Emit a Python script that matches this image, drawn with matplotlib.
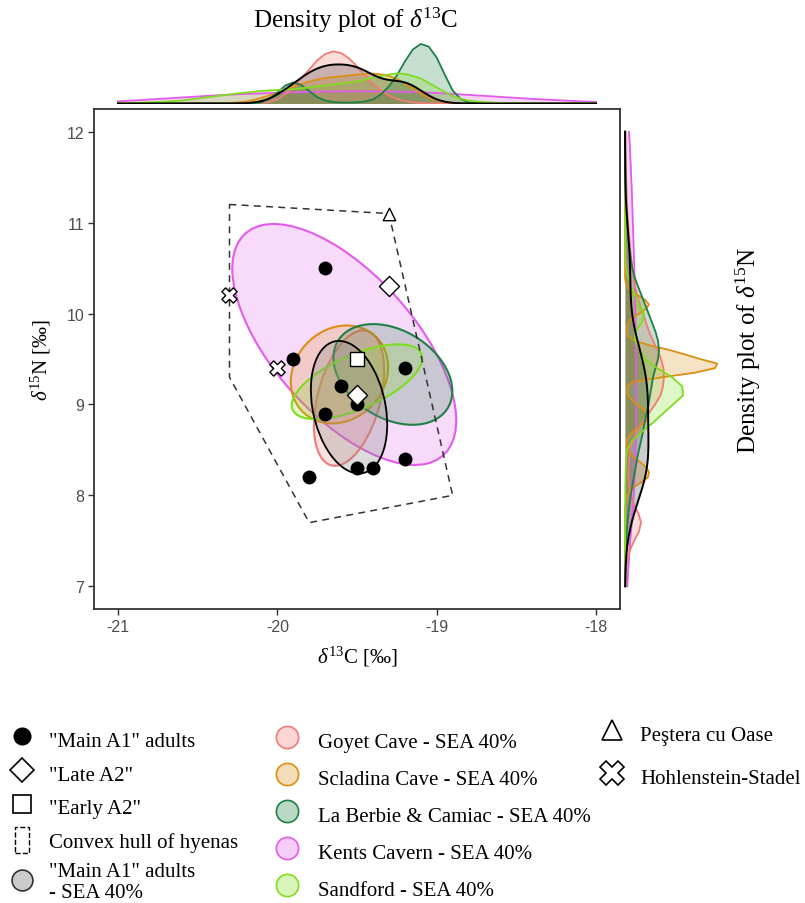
import numpy as np
import matplotlib
matplotlib.use("Agg")
import matplotlib.pyplot as plt
from matplotlib.patches import Ellipse, Patch, Polygon, Rectangle
from matplotlib.lines import Line2D
from matplotlib.colors import to_rgba
from matplotlib.legend_handler import HandlerPatch

plt.rcParams['font.family'] = ['Liberation Serif', 'DejaVu Serif']
plt.rcParams['mathtext.fontset'] = 'custom'
plt.rcParams['mathtext.rm'] = 'Liberation Serif'
plt.rcParams['mathtext.it'] = 'Liberation Serif:italic'
plt.rcParams['mathtext.bf'] = 'Liberation Serif:bold'

# ---------------- data ----------------
main_a1_c13 = [-19.7, -19.9, -19.6, -19.7, -19.5, -19.2, -19.2, -19.5, -19.4, -19.8]
main_a1_n15 = [10.5, 9.5, 9.2, 8.9, 9.0, 9.4, 8.4, 8.3, 8.3, 8.2]
late_a2_c13 = [-19.3, -19.5]
late_a2_n15 = [10.3, 9.1]
early_a2_c13 = [-19.5]
early_a2_n15 = [9.5]
oase_c13 = [-19.3]
oase_n15 = [11.1]
hohlenstein_c13 = [-20.3, -20.0]
hohlenstein_n15 = [10.2, 9.4]
hull_c13 = [-20.3, -19.3, -18.9, -19.8, -20.3]
hull_n15 = [11.2, 11.1, 8.0, 7.7, 9.3]

sites = ['Goyet Cave', 'Scladina Cave', 'La Berbie & Camiac', 'Kents Cavern', 'Sandford']
site_colors = ['#F07C76', '#DD8F14', '#1E8048', '#E35BEA', '#80DC1E']
site_mean_c13 = [-19.55, -19.61, -19.275, -19.58, -19.50]
site_mean_n15 = [9.07, 9.33, 9.33, 9.66, 9.25]
site_sd_c13 = [0.218, 0.302, 0.369, 0.695, 0.405]
site_sd_n15 = [0.737, 0.533, 0.548, 1.311, 0.407]
site_rho = [0.40, 0.15, -0.33, -0.63, 0.63]
sea_level = 0.40

# density of d13C, read on a 0.05 grid from -21 to -18
c13_grid = np.round(np.linspace(-21.0, -18.0, 61), 2)
dens_c13_goyet = [0.0] * 18 + [
    0.02, 0.06, 0.15, 0.34, 0.60, 0.94, 1.27, 1.61, 1.85, 1.95, 1.89,
    1.69, 1.39, 1.05, 0.75, 0.49, 0.30, 0.17, 0.09, 0.045, 0.02] + [0.0] * 22
dens_c13_scladina = [0.0] * 13 + [
    0.01, 0.02, 0.045, 0.075, 0.13, 0.21, 0.30, 0.39, 0.51, 0.62, 0.73,
    0.82, 0.90, 0.955, 0.99, 1.02, 1.05, 1.08, 1.10, 1.12, 1.09, 1.03,
    0.92, 0.75, 0.56, 0.37, 0.22, 0.12, 0.06, 0.026, 0.011] + [0.0] * 17
dens_c13_berbie = [0.0] * 17 + [
    0.011, 0.037, 0.17, 0.41, 0.67, 0.79, 0.69, 0.47, 0.24, 0.11, 0.056,
    0.037, 0.037, 0.045, 0.075, 0.15, 0.34, 0.64, 1.05, 1.57, 2.02, 2.23,
    2.13, 1.72, 1.09, 0.49, 0.17, 0.045, 0.011] + [0.0] * 15
dens_c13_kents = [
    0.082, 0.097, 0.112, 0.131, 0.150, 0.169, 0.187, 0.206, 0.225, 0.243,
    0.262, 0.281, 0.300, 0.315, 0.330, 0.345, 0.356, 0.367, 0.378, 0.390,
    0.400, 0.412, 0.420, 0.427, 0.434, 0.442, 0.446, 0.449, 0.453, 0.457,
    0.457, 0.457, 0.457, 0.453, 0.449, 0.446, 0.438, 0.431, 0.420, 0.408,
    0.393, 0.378, 0.360, 0.341, 0.322, 0.303, 0.285, 0.266, 0.247, 0.228,
    0.210, 0.191, 0.172, 0.157, 0.142, 0.127, 0.112, 0.097, 0.082, 0.067,
    0.056]
dens_c13_sandford = [
    0.011, 0.015, 0.022, 0.034, 0.045, 0.060, 0.075, 0.094, 0.112, 0.150,
    0.187, 0.225, 0.262, 0.300, 0.337, 0.375, 0.410, 0.440, 0.470, 0.487,
    0.506, 0.524, 0.543, 0.570, 0.600, 0.637, 0.674, 0.710, 0.750, 0.787,
    0.824, 0.900, 0.974, 1.030, 1.086, 1.124, 1.105, 1.030, 0.936, 0.768,
    0.600, 0.430, 0.280, 0.180, 0.112, 0.075, 0.052, 0.034, 0.019, 0.011,
    0.007] + [0.0] * 10

# density of d15N, read on a 0.1 grid from 7 to 12 (Scladina on a 0.05 grid)
n15_grid = np.round(np.linspace(7.0, 12.0, 51), 2)
n15_grid_fine = np.round(np.linspace(7.0, 12.0, 101), 2)
dens_n15_goyet = [
    0.006, 0.0125, 0.025, 0.052, 0.104, 0.1875, 0.29, 0.333, 0.28, 0.1875,
    0.125, 0.083, 0.073, 0.073, 0.083, 0.104, 0.167, 0.24, 0.354, 0.49,
    0.625, 0.74, 0.79, 0.81, 0.80, 0.75, 0.677, 0.583, 0.50, 0.4375,
    0.375, 0.31, 0.25, 0.208, 0.177, 0.15, 0.13, 0.11, 0.094, 0.077,
    0.062, 0.052, 0.042, 0.035, 0.029, 0.023, 0.019, 0.015, 0.010, 0.008,
    0.006]
dens_n15_scladina = [0.0] * 18 + [
    0.006, 0.021, 0.042, 0.104, 0.208, 0.354, 0.479, 0.50, 0.458, 0.354,
    0.229, 0.125, 0.052, 0.031, 0.042, 0.083, 0.167, 0.292, 0.417, 0.479,
    0.458, 0.375, 0.25, 0.146, 0.0625, 0.042, 0.052, 0.167, 0.79, 1.46,
    1.875, 1.92, 1.5625, 1.25, 0.917, 0.52, 0.208, 0.0625, 0.042, 0.042,
    0.073, 0.146, 0.292, 0.4375, 0.50, 0.417, 0.27, 0.125, 0.042, 0.01] + [0.0] * 33
dens_n15_berbie = [
    0.003, 0.005, 0.008, 0.0125, 0.019, 0.027, 0.0375, 0.052, 0.071, 0.094,
    0.12, 0.15, 0.183, 0.219, 0.25, 0.29, 0.333, 0.375, 0.406, 0.448,
    0.49, 0.52, 0.552, 0.583, 0.635, 0.6875, 0.708, 0.6875, 0.635, 0.5625,
    0.49, 0.417, 0.344, 0.27, 0.20, 0.15, 0.12, 0.096, 0.075, 0.058,
    0.044, 0.033, 0.025, 0.019, 0.015, 0.010, 0.008, 0.006, 0.004, 0.003,
    0.002]
dens_n15_kents = [
    0.048, 0.058, 0.069, 0.081, 0.094, 0.108, 0.125, 0.140, 0.154, 0.169,
    0.181, 0.192, 0.200, 0.208, 0.215, 0.219, 0.223, 0.227, 0.229, 0.229,
    0.229, 0.229, 0.229, 0.229, 0.229, 0.227, 0.225, 0.223, 0.221, 0.219,
    0.215, 0.210, 0.206, 0.202, 0.198, 0.194, 0.1875, 0.181, 0.175, 0.169,
    0.1625, 0.156, 0.150, 0.144, 0.1375, 0.129, 0.121, 0.1125, 0.104, 0.094,
    0.083]
dens_n15_sandford = [
    0.002, 0.002, 0.002, 0.002, 0.002, 0.002, 0.002, 0.003, 0.003, 0.004,
    0.004, 0.006, 0.010, 0.015, 0.021, 0.042, 0.146, 0.354, 0.583, 0.79,
    1.0, 1.21, 1.19, 0.98, 0.667, 0.417, 0.3125, 0.208, 0.208, 0.354,
    0.396, 0.29, 0.208, 0.125, 0.0625, 0.021, 0.0125, 0.008, 0.006, 0.004,
    0.003, 0.002, 0.002, 0.002, 0.002, 0.002, 0.002, 0.002, 0.002, 0.002,
    0.002]

dens_c13_sites = [(c13_grid, dens_c13_goyet), (c13_grid, dens_c13_scladina),
                  (c13_grid, dens_c13_berbie), (c13_grid, dens_c13_kents),
                  (c13_grid, dens_c13_sandford)]
dens_n15_sites = [(n15_grid, dens_n15_goyet), (n15_grid_fine, dens_n15_scladina),
                  (n15_grid, dens_n15_berbie), (n15_grid, dens_n15_kents),
                  (n15_grid, dens_n15_sandford)]

x_ticks = [-21, -20, -19, -18]
x_ticklabels = ['-21', '-20', '-19', '-18']
y_ticks = [7, 8, 9, 10, 11, 12]
y_ticklabels = ['7', '8', '9', '10', '11', '12']

# ---------------- helpers ----------------
def sea_ellipse(mx, my, cov, level, **kw):
    k = np.sqrt(-2.0 * np.log(1.0 - level))
    vals, vecs = np.linalg.eigh(np.asarray(cov))
    order = vals.argsort()[::-1]
    vals, vecs = vals[order], vecs[:, order]
    angle = np.degrees(np.arctan2(vecs[1, 0], vecs[0, 0]))
    return Ellipse((mx, my), 2 * k * np.sqrt(vals[0]), 2 * k * np.sqrt(vals[1]),
                   angle=angle, **kw)


def kde(values, grid):
    v = np.asarray(values, float)
    n = len(v)
    sd = v.std(ddof=1)
    q75, q25 = np.percentile(v, [75, 25])
    bw = 0.9 * min(sd, (q75 - q25) / 1.34) * n ** -0.2
    z = (grid[:, None] - v[None, :]) / bw
    return np.exp(-0.5 * z ** 2).sum(1) / (n * bw * np.sqrt(2 * np.pi))


def narrow_rect(legend, orig_handle, xdescent, ydescent, width, height, fontsize):
    w = width * 0.5
    h = height * 1.05
    return Rectangle((-xdescent + (width - w) / 2, -ydescent + (height - h) / 2), w, h)


# ---------------- figure ----------------
W, H = 805, 904
fig = plt.figure(figsize=(W / 100, H / 100), dpi=100)


def box(l, t, r, b):
    return [l / W, 1 - b / H, (r - l) / W, (b - t) / H]


ax = fig.add_axes(box(94, 110, 620, 610))
axt = fig.add_axes(box(94, 38, 620, 105.3))
axr = fig.add_axes(box(623.6, 110, 740, 610))

XLIM = (-21.15, -17.85)
YLIM = (6.75, 12.25)
ax.set_xlim(XLIM)
ax.set_ylim(YLIM)
axt.set_xlim(XLIM)
axt.set_ylim(-0.03, 2.49)
axr.set_ylim(YLIM)
axr.set_xlim(-0.03, 2.395)
for a in (axt, axr):
    a.axis('off')

fill_alpha = 0.22

# ellipses (Kents first so it sits underneath)
order = [3, 0, 1, 2, 4]
for i in order:
    cov = [[site_sd_c13[i] ** 2, site_rho[i] * site_sd_c13[i] * site_sd_n15[i]],
           [site_rho[i] * site_sd_c13[i] * site_sd_n15[i], site_sd_n15[i] ** 2]]
    ax.add_patch(sea_ellipse(site_mean_c13[i], site_mean_n15[i], cov, sea_level,
                             facecolor=to_rgba(site_colors[i], fill_alpha),
                             edgecolor=site_colors[i], lw=1.5, zorder=2))

main_cov = np.cov(np.vstack([main_a1_c13, main_a1_n15]))
ax.add_patch(sea_ellipse(np.mean(main_a1_c13), np.mean(main_a1_n15), main_cov, sea_level,
                         facecolor=to_rgba('#8C8C8C', 0.30), edgecolor='black',
                         lw=1.3, zorder=3))

# convex hull of hyenas
ax.add_patch(Polygon(list(zip(hull_c13, hull_n15)), closed=True, fill=False,
                     edgecolor='#333333', lw=1.1, linestyle=(0, (4.5, 3.5)), zorder=3))

# points
ax.scatter(main_a1_c13, main_a1_n15, s=100, c='black', zorder=6, linewidths=0)
ax.scatter(late_a2_c13, late_a2_n15, s=105, marker='D', facecolor='white',
           edgecolor='black', linewidths=1.0, zorder=7)
ax.scatter(early_a2_c13, early_a2_n15, s=115, marker='s', facecolor='white',
           edgecolor='black', linewidths=1.0, zorder=7)
ax.scatter(oase_c13, oase_n15, s=80, marker='^', facecolor='white',
           edgecolor='black', linewidths=1.0, zorder=7)
ax.scatter(hohlenstein_c13, hohlenstein_n15, s=120, marker='X', facecolor='white',
           edgecolor='black', linewidths=1.0, zorder=7)

# axes styling
ax.set_xticks(x_ticks)
ax.set_xticklabels(x_ticklabels, fontfamily='Liberation Sans')
ax.set_yticks(y_ticks)
ax.set_yticklabels(y_ticklabels, fontfamily='Liberation Sans')
ax.tick_params(direction='out', length=4, width=1.0, color='#333333',
               labelsize=11.5, labelcolor='#4D4D4D', pad=3)
for sp in ax.spines.values():
    sp.set_color('#333333')
    sp.set_linewidth(1.3)
ax.set_xlabel(r'$\delta^{13}$C [‰]', fontsize=15, labelpad=7)
ax.set_ylabel(r'$\delta^{15}$N [‰]', fontsize=15, labelpad=10)

# marginal densities
main_c13_d = kde(main_a1_c13, np.linspace(-21, -18, 301))
main_n15_d = kde(main_a1_n15, np.linspace(7, 12, 501))
d_order = [3, 0, 1, 2, 4]
for i in d_order:
    gx, dv = dens_c13_sites[i]
    axt.fill_between(gx, 0, dv, color=site_colors[i], alpha=0.25, lw=0)
    axt.plot(gx, dv, color=site_colors[i], lw=1.3)
    gy, dn = dens_n15_sites[i]
    axr.fill_betweenx(gy, 0, dn, color=site_colors[i], alpha=0.25, lw=0)
    axr.plot(dn, gy, color=site_colors[i], lw=1.3)
gx = np.linspace(-21, -18, 301)
axt.fill_between(gx, 0, main_c13_d, color='black', alpha=0.2, lw=0)
axt.plot(gx, main_c13_d, color='black', lw=1.4)
gy = np.linspace(7, 12, 501)
axr.fill_betweenx(gy, 0, main_n15_d, color='black', alpha=0.2, lw=0)
axr.plot(main_n15_d, gy, color='black', lw=1.4)

fig.text(356 / W, 1 - 20 / H, r'Density plot of $\delta^{13}$C', fontsize=18,
         ha='center', va='center')
fig.text(748 / W, 1 - 350 / H, r'Density plot of $\delta^{15}$N', fontsize=18,
         ha='center', va='center', rotation=90)

# ---------------- legends ----------------
leg1_handles = [
    Line2D([], [], marker='o', linestyle='none', markersize=12, color='black'),
    Line2D([], [], marker='D', linestyle='none', markersize=12, markerfacecolor='white',
           markeredgecolor='black', markeredgewidth=1.2),
    Line2D([], [], marker='s', linestyle='none', markersize=13, markerfacecolor='white',
           markeredgecolor='black', markeredgewidth=1.2),
    Patch(facecolor='none', edgecolor='black', linestyle='--', linewidth=1.0),
    Line2D([], [], marker='o', linestyle='none', markersize=15,
           markerfacecolor=to_rgba('#8C8C8C', 0.45), markeredgecolor='#333333',
           markeredgewidth=1.2),
]
leg1_labels = ['"Main A1" adults', '"Late A2"', '"Early A2"', 'Convex hull of hyenas',
               '"Main A1" adults\n- SEA 40%']
leg2_handles = [Line2D([], [], marker='o', linestyle='none', markersize=16,
                       markerfacecolor=to_rgba(c, 0.3), markeredgecolor=c,
                       markeredgewidth=1.2) for c in site_colors]
leg2_labels = [s + ' - SEA 40%' for s in sites]
leg3_handles = [
    Line2D([], [], marker='^', linestyle='none', markersize=15, markerfacecolor='white',
           markeredgecolor='black', markeredgewidth=1.2),
    Line2D([], [], marker='X', linestyle='none', markersize=17, markerfacecolor='white',
           markeredgecolor='black', markeredgewidth=1.2),
]
leg3_labels = ['Peştera cu Oase', 'Hohlenstein-Stadel']

common = dict(loc='upper left', frameon=False, fontsize=15, borderaxespad=0,
              borderpad=0, handlelength=1.4, handleheight=1.4)
fig.legend(leg1_handles, leg1_labels, bbox_to_anchor=(7.5 / W, 1 - 728 / H),
           labelspacing=0.46, handletextpad=0.6,
           handler_map={Patch: HandlerPatch(patch_func=narrow_rect)}, **common)
fig.legend(leg2_handles, leg2_labels, bbox_to_anchor=(272.5 / W, 1 - 729 / H),
           labelspacing=0.62, handletextpad=0.8, **common)
fig.legend(leg3_handles, leg3_labels, bbox_to_anchor=(597.5 / W, 1 - 722 / H),
           labelspacing=0.9, handletextpad=0.65, **common)

fig.savefig('out.png', dpi=100)
